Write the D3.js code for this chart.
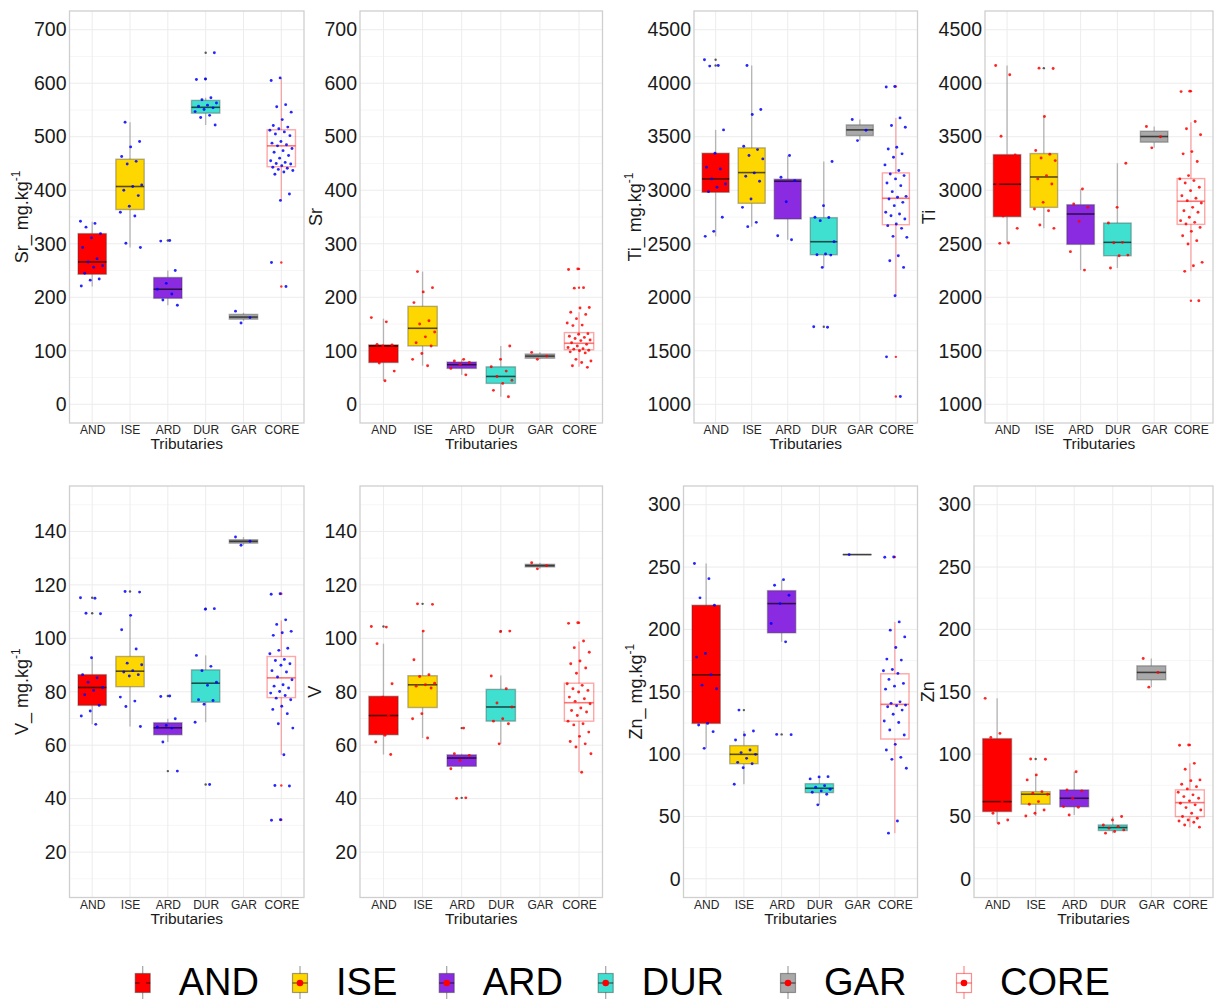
<!DOCTYPE html>
<html><head><meta charset="utf-8">
<script src="https://cdn.jsdelivr.net/npm/d3@7"></script>
<style>body{margin:0;background:#fff} svg{display:block;font-family:"Liberation Sans",Arial,sans-serif}</style>
</head><body><svg id="c" width="1215" height="1003"></svg>
<script>
// ---------- DATA ----------
const categories = ["AND","ISE","ARD","DUR","GAR","CORE"];
const srTicks = [0,100,200,300,400,500,600,700];
const tiTicks = [1000,1500,2000,2500,3000,3500,4000,4500];
const vTicks  = [20,40,60,80,100,120,140];
const znTicks = [0,50,100,150,200,250,300];

// box stats: [lower whisker, q1, median, q3, upper whisker]
const srMgBox = [[220,243,266,319,341],[293,364,407,458,527],[185,198,215,237,250],[522,544,555,568,573],[156,159,163,168,171],[381,444,483,513,610]];
const srMgOut = [[],[],[306],[657,608],[],[265,220]];
const srMgPts = [
 [342,338,331,319,311,293,272,266,259,256,245,234,232,221],
 [527,491,481,463,454,449,410,407,400,390,370,359,352,301,293],
 [306,305,250,226,215,206,195,185],
 [657,608,607,573,569,563,559,557,554,551,547,540,536,522],
 [174,162,152],
 [610,605,560,556,546,532,521,518,515,512,509,505,502,491,488,485,483,478,474,471,465,460,455,452,450,449,446,443,441,439,437,434,430,393,381,265,220]];

const srBox = [[44,78,109,111,160],[72,109,142,183,248],[55,67,74,79,84],[14,39,52,70,109],[84,86,90,94,97],[70,102,114,134,172]];
const srOut = [[],[],[],[],[],[253,218]];
const srPts = [
 [162,154,112,111,109,95,85,77,62,44],
 [248,218,210,190,156,150,135,126,115,109,95,84,72],
 [84,81,78,75,67,55],
 [109,84,70,62,52,45,39,26,14],
 [97,90,84],
 [253,252,218,217,181,180,172,168,160,152,148,147,132,131,127,125,123,120,119,115,112,109,106,104,103,101,100,98,96,84,81,78,72,69]];

const tiMgBox = [[2569,2981,3106,3346,3564],[2660,2878,3165,3396,4166],[2538,2731,3084,3103,3324],[2279,2397,2519,2744,3268],[3464,3511,3564,3611,3661],[2014,2678,2925,3162,3676]];
const tiMgOut = [[4219,4166],[],[],[1724],[],[3970,1443,1072]];
const tiMgPts = [
 [4219,4166,4160,3564,3346,3215,3199,3106,3059,3028,2987,2747,2616,2569],
 [4166,3754,3708,3411,3380,3324,3293,3162,3131,3084,2918,2840,2700,2660],
 [3324,3121,3090,2893,2575,2538],
 [3268,2856,2747,2745,2716,2519,2404,2397,2394,2279,1724,1720],
 [3661,3560,3464],
 [3970,3965,3676,3605,3589,3402,3386,3340,3308,3237,3184,3152,3137,3106,3068,3043,2987,2943,2934,2918,2887,2856,2794,2778,2762,2731,2684,2669,2644,2569,2560,2388,2341,2279,2014,1443,1072]];

const tiBox = [[2507,2753,3056,3333,4166],[2644,2840,3124,3343,3689],[2254,2494,2778,2865,3012],[2273,2388,2513,2694,3252],[3396,3449,3502,3552,3595],[2242,2681,2897,3109,3636]];
const tiOut = [[],[4141],[],[],[],[3926,1967]];
const tiPts = [
 [4166,4079,3505,3330,3200,3056,2900,2760,2644,2507,2504],
 [4141,4138,3689,3371,3336,3302,3277,3137,3106,3059,2887,2825,2809,2675,2644],
 [3012,2871,2840,2709,2426,2254],
 [3252,2840,2694,2513,2510,2394,2388,2273],
 [3595,3500,3396],
 [3926,3922,3642,3574,3518,3361,3340,3268,3137,3106,3090,3068,3028,2996,2949,2925,2903,2881,2840,2809,2794,2747,2716,2700,2684,2653,2616,2575,2529,2497,2326,2294,2242,1967]];

const vMgBox = [[67.8,74.9,81.6,86.4,92.7],[67.0,81.9,87.7,93.2,108.6],[61.2,63.9,66.5,68.4,69.9],[68.6,76.1,83.2,88.2,93.6],[134.8,135.6,136.3,136.9,137.9],[56.4,77.8,85.2,93.2,106.7]];
const vMgOut = [[115.2,109.4],[117.5],[78.4,50.3],[111.1,45.3],[],[116.7,44.9,32.1]];
const vMgPts = [
 [115.2,115.0,109.4,109.2,92.7,86.4,85.2,83.6,81.6,80.5,78.9,74.9,72.8,70.9,67.8],
 [117.5,117.3,108.6,103.2,96.0,90.7,90.1,87.9,87.4,86.4,85.9,78.0,76.5,74.5,67.0],
 [78.4,78.2,69.9,67.4,66.8,66.4,61.2,50.3],
 [111.1,110.9,93.6,89.5,87.9,83.6,82.4,77.0,76.7,75.3,68.6,45.3],
 [137.9,136.3,134.8],
 [116.7,116.5,106.9,105.2,102.6,102.1,101.1,96.3,95.5,94.2,92.1,91.7,90.5,89.9,87.9,87.4,85.5,84.5,82.6,82.1,81.4,80.1,79.5,78.6,77.6,77.0,74.6,73.4,71.8,68.0,66.4,56.4,44.9,44.7,32.1,31.9]];

const vBox = [[56.5,63.9,71.1,78.3,98.0],[62.7,74.1,82.6,86.0,102.7],[51.2,52.1,55.2,56.4,56.8],[60.5,69.0,74.3,80.9,86.1],[126.0,126.7,127.2,127.7,128.3],[49.9,69.0,75.9,83.2,98.8]];
const vOut = [[104.4],[112.9],[66.4,40.3],[102.7],[],[105.8]];
const vPts = [
 [104.4,104.2,98.0,83.0,78.0,74.0,71.1,68.0,65.0,63.7,61.2,56.5],
 [112.9,112.7,102.7,92.0,86.4,85.7,83.2,82.6,82.1,81.4,71.8,69.9,62.7],
 [66.4,56.8,56.2,54.3,51.2,40.3,40.1],
 [102.7,102.5,85.9,81.1,75.8,74.3,69.9,69.0,68.0,60.5],
 [128.3,127.2,126.0],
 [105.8,105.6,99.0,96.5,94.8,91.5,90.5,88.9,86.9,83.0,82.4,81.1,80.5,79.9,78.0,77.4,76.4,75.5,73.9,73.0,72.4,71.1,69.0,68.0,67.6,64.9,63.3,61.4,60.5,59.3,56.8,49.9]];

const znMgBox = [[104.6,124.6,163.6,219.4,252.8],[75.8,92.3,99.8,106.8,118.5],[190.0,197.2,220.7,231.1,239.9],[59.3,69.1,72.6,76.3,81.9],[260,260,260,260,260],[36.6,112.1,139.9,164.4,206.0]];
const znMgOut = [[],[135.3],[115.8],[],[],[258.1]];
const znMgPts = [
 [252.8,240.7,225.3,219.4,180.7,177.8,163.6,155.3,152.4,124.6,123.3,118.0,104.6],
 [135.3,118.5,115.3,111.3,103.3,101.2,99.8,96.6,93.4,92.3,89.1,75.8],
 [239.9,235.4,227.4,220.7,204.7,190.0,115.8,115.6],
 [81.9,81.7,80.1,74.7,73.4,71.8,70.5,69.4,67.8,59.3],
 [260],
 [258.1,257.9,206.0,199.4,194.0,185.5,176.2,175.4,167.9,166.8,164.7,159.9,156.7,154.5,152.1,141.9,140.7,139.3,138.8,138.0,135.3,131.9,126.5,125.4,119.3,115.3,107.8,103.3,97.4,95.8,88.6,46.4,36.6]];

const znBox = [[44.6,53.9,61.9,112.4,144.7],[50.4,59.8,67.8,69.9,83.3],[51.2,57.7,64.6,71.3,85.9],[36.6,38.7,41.1,43.2,49.9],[153.7,159.6,165.5,170.8,176.7],[41.4,49.9,61.1,71.3,92.6]];
const znOut = [[],[96.1],[],[],[],[107.3]];
const znPts = [
 [144.7,116.6,113.4,100,85,70,61.9,52.6,47.2,44.6],
 [96.1,95.9,83.3,79.3,69.9,68.6,67.8,61.9,59.8,55.2,52.6,50.4],
 [85.9,71.3,70.5,64.6,57.9,57.4,51.2],
 [49.9,47.2,43.2,41.9,40.6,39.2,37.9,36.6],
 [176.7,165.5,153.7],
 [107.3,107.1,92.6,87.8,79.3,78.7,75.8,73.9,72.1,69.4,67.3,65.9,64.6,62.5,60.6,59.3,57.1,55.2,52.6,49.9,48.6,47.2,46.4,45.4,43.2,41.4]];

// ---------- STYLE / LAYOUT ----------
const fills = {AND:"#ff0000", ISE:"#ffd700", ARD:"#8a2be2", DUR:"#40e0d0", GAR:"#a9a9a9", CORE:"none"};
const panels = [
 {x0:69.5,x1:304,y0:11,y1:423,dom:[-35,735],ticks:srTicks,box:srMgBox,out:srMgOut,pts:srMgPts,pc:"#0000ff",title:"Sr_ mg.kg",sup:true,tx:28},
 {x0:360,x1:602.5,y0:11,y1:423,dom:[-35,735],ticks:srTicks,box:srBox,out:srOut,pts:srPts,pc:"#ff0000",title:"Sr",sup:false,tx:321.5},
 {x0:694,x1:917.5,y0:11,y1:423,dom:[825,4675],ticks:tiTicks,box:tiMgBox,out:tiMgOut,pts:tiMgPts,pc:"#0000ff",title:"Ti_ mg.kg",sup:true,tx:641},
 {x0:985,x1:1213,y0:11,y1:423,dom:[825,4675],ticks:tiTicks,box:tiBox,out:tiOut,pts:tiPts,pc:"#ff0000",title:"Ti",sup:false,tx:935},
 {x0:69.5,x1:304,y0:486,y1:897.5,dom:[3,157],ticks:vTicks,box:vMgBox,out:vMgOut,pts:vMgPts,pc:"#0000ff",title:"V_ mg.kg",sup:true,tx:28},
 {x0:360,x1:602.5,y0:486,y1:897.5,dom:[3,157],ticks:vTicks,box:vBox,out:vOut,pts:vPts,pc:"#ff0000",title:"V",sup:false,tx:320.5},
 {x0:683.5,x1:917.5,y0:486,y1:897.5,dom:[-15,315],ticks:znTicks,box:znMgBox,out:znMgOut,pts:znMgPts,pc:"#0000ff",title:"Zn_ mg.kg",sup:true,tx:641.5},
 {x0:974,x1:1213,y0:486,y1:897.5,dom:[-15,315],ticks:znTicks,box:znBox,out:znOut,pts:znPts,pc:"#ff0000",title:"Zn",sup:false,tx:934}
];

const svg = d3.select("#c");

panels.forEach(p => {
  const g = svg.append("g");
  const x = d3.scalePoint().domain(categories).range([p.x0, p.x1]).padding(0.6);
  const y = d3.scaleLinear().domain(p.dom).range([p.y1, p.y0]);
  const step = x.step();
  const bw = step * 0.75;

  // gridlines
  const tstep = p.ticks[1] - p.ticks[0];
  const minor = [];
  for (let v = p.ticks[0] - tstep/2; v <= p.ticks[p.ticks.length-1] + tstep/2; v += tstep) {
    if (v > p.dom[0] && v < p.dom[1]) minor.push(v);
  }
  g.selectAll(".mn").data(minor).join("line")
    .attr("x1", p.x0).attr("x2", p.x1).attr("y1", d => y(d)).attr("y2", d => y(d))
    .attr("stroke", "#f4f4f4").attr("stroke-width", 0.8);
  g.selectAll(".mj").data(p.ticks).join("line")
    .attr("x1", p.x0).attr("x2", p.x1).attr("y1", d => y(d)).attr("y2", d => y(d))
    .attr("stroke", "#ececec").attr("stroke-width", 1);
  g.selectAll(".vx").data(categories).join("line")
    .attr("x1", d => x(d)).attr("x2", d => x(d)).attr("y1", p.y0).attr("y2", p.y1)
    .attr("stroke", "#ececec").attr("stroke-width", 1);

  // boxplots
  categories.forEach((c, i) => {
    const b = p.box[i];
    const cx = x(c);
    const isCore = c === "CORE";
    const lc = isCore ? "#ff0000" : "#333333";
    const bg = g.append("g");
    bg.append("line").attr("x1", cx).attr("x2", cx).attr("y1", y(b[0])).attr("y2", y(b[1]))
      .attr("stroke", lc).attr("stroke-opacity", 0.3).attr("stroke-width", 1.4);
    bg.append("line").attr("x1", cx).attr("x2", cx).attr("y1", y(b[3])).attr("y2", y(b[4]))
      .attr("stroke", lc).attr("stroke-opacity", 0.3).attr("stroke-width", 1.4);
    bg.append("rect").attr("x", cx - bw/2).attr("width", bw)
      .attr("y", y(b[3])).attr("height", Math.max(0.01, y(b[1]) - y(b[3])))
      .attr("fill", isCore ? "#ffffff" : fills[c]).attr("fill-opacity", isCore ? 0 : 1)
      .attr("stroke", lc).attr("stroke-opacity", 0.35).attr("stroke-width", 1.4);
    bg.append("line").attr("x1", cx - bw/2).attr("x2", cx + bw/2).attr("y1", y(b[2])).attr("y2", y(b[2]))
      .attr("stroke", isCore ? "#ff0000" : "#000").attr("stroke-opacity", isCore ? 0.55 : 0.65).attr("stroke-width", 1.6);
    // outliers at the centre
    bg.selectAll("circle").data(p.out[i]).join("circle")
      .attr("cx", cx).attr("cy", d => y(d)).attr("r", 1.2)
      .attr("fill", isCore ? "#ff0000" : "#333").attr("fill-opacity", 0.8);
  });

  // jittered points (deterministic offsets)
  categories.forEach((c, i) => {
    const cx = x(c);
    g.append("g").selectAll("circle").data(p.pts[i]).join("circle")
      .attr("cx", (d, j) => cx + (((j * 0.6180339887 + i * 0.29) % 1) - 0.5) * 0.62 * step)
      .attr("cy", d => y(d)).attr("r", 1.45)
      .attr("fill", p.pc).attr("fill-opacity", 0.85);
  });

  // panel border
  g.append("rect").attr("x", p.x0).attr("y", p.y0).attr("width", p.x1 - p.x0).attr("height", p.y1 - p.y0)
    .attr("fill", "none").attr("stroke", "#cfcfcf").attr("stroke-width", 1.3);

  // y axis
  const ya = g.append("g").attr("transform", `translate(${p.x0},0)`)
    .call(d3.axisLeft(y).tickValues(p.ticks).tickSize(0).tickPadding(3).tickFormat(d3.format("d")));
  ya.select(".domain").remove();
  ya.selectAll("text").attr("font-size", 19.5).attr("fill", "#1a1a1a")
    .attr("font-family", "'Liberation Sans',Arial,sans-serif");

  // x axis
  const xa = g.append("g").attr("transform", `translate(0,${p.y1})`)
    .call(d3.axisBottom(x).tickSize(0).tickPadding(2.5));
  xa.select(".domain").remove();
  xa.selectAll("text").attr("font-size", 12).attr("fill", "#262626")
    .attr("font-family", "'Liberation Sans',Arial,sans-serif");

  g.append("text").attr("x", (p.x0 + p.x1)/2).attr("y", p.y1 + 26)
    .attr("text-anchor", "middle").attr("font-size", 15.5).attr("fill", "#1a1a1a")
    .text("Tributaries");

  // y title
  const cy = (p.y0 + p.y1)/2;
  const t = g.append("text").attr("transform", `translate(${p.tx},${cy}) rotate(-90)`)
    .attr("text-anchor", "middle").attr("font-size", 18).attr("fill", "#1a1a1a");
  t.append("tspan").text(p.title);
  if (p.sup) t.append("tspan").attr("font-size", 12).attr("dy", -8).text("-1");
});

// ---------- LEGEND ----------
const legendX = [142.7, 300, 446.7, 605.7, 788, 964];
const lg = svg.append("g");
categories.forEach((c, i) => {
  const cx = legendX[i], cy = 983;
  const isCore = c === "CORE";
  const lc = isCore ? "#ff0000" : "#333";
  lg.append("line").attr("x1", cx).attr("x2", cx).attr("y1", cy - 17).attr("y2", cy + 16)
    .attr("stroke", lc).attr("stroke-opacity", 0.45).attr("stroke-width", 1.2);
  lg.append("rect").attr("x", cx - 7.5).attr("y", cy - 9.5).attr("width", 15).attr("height", 19)
    .attr("fill", isCore ? "#fff" : fills[c]).attr("stroke", lc).attr("stroke-opacity", 0.45).attr("stroke-width", 1.2);
  lg.append("line").attr("x1", cx - 7.5).attr("x2", cx + 7.5).attr("y1", cy).attr("y2", cy)
    .attr("stroke", isCore ? "#ff0000" : "#000").attr("stroke-opacity", 0.6).attr("stroke-width", 1.2);
  lg.append("circle").attr("cx", cx).attr("cy", cy).attr("r", 3.3).attr("fill", "#ff0000");
  lg.append("text").attr("x", cx + 36).attr("y", 994.5).attr("font-size", 38).attr("fill", "#000").text(c);
});
</script></body></html>
